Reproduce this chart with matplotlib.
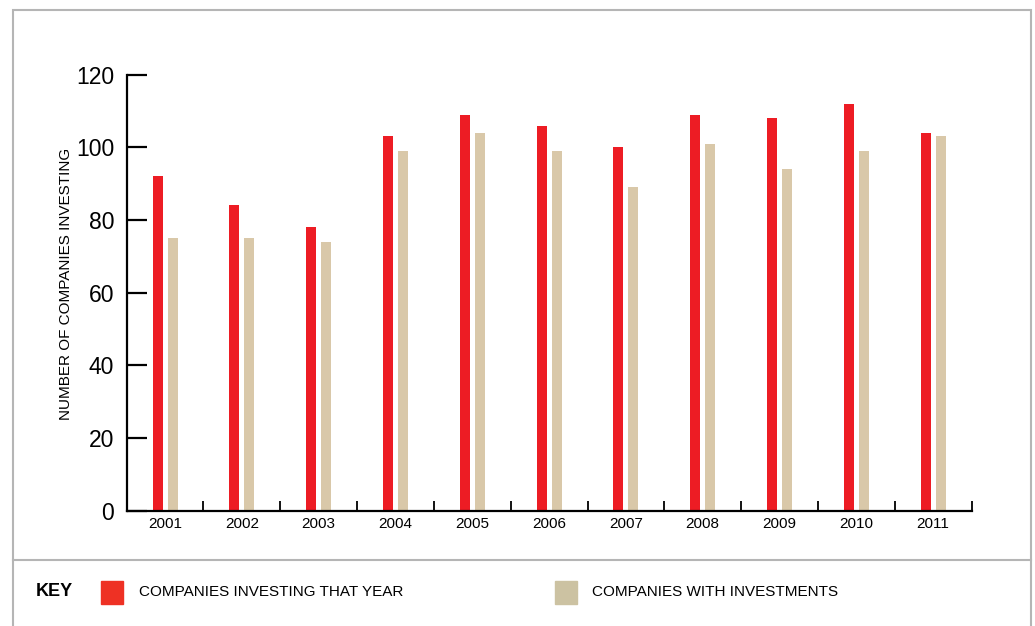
import numpy as np
import matplotlib.pyplot as plt
from matplotlib.patches import Rectangle
from matplotlib.lines import Line2D

# --- Data ---
years = ['2001', '2002', '2003', '2004', '2005', '2006',
         '2007', '2008', '2009', '2010', '2011']
investing_that_year = [92, 84, 78, 103, 109, 106, 100, 109, 108, 112, 104]
with_investments = [75, 75, 74, 99, 104, 99, 89, 101, 94, 99, 103]

red = '#ED1C24'
tan = '#D9C8A9'

plt.rcParams['font.family'] = ['Liberation Sans', 'DejaVu Sans']

fig = plt.figure(figsize=(10.35, 6.26), dpi=100)
ax = fig.add_axes([0.1224, 0.1845, 0.8163, 0.6962])

x = np.arange(len(years)) + 0.5
width = 0.13
offset = 0.0975
ax.bar(x - offset, investing_that_year, width, color=red)
ax.bar(x + offset, with_investments, width, color=tan)

ax.set_xlim(0, len(years))
ax.set_ylim(0, 120)

# axes styling
for side in ['top', 'right']:
    ax.spines[side].set_visible(False)
for side in ['left', 'bottom']:
    ax.spines[side].set_linewidth(1.6)
    ax.spines[side].set_color('black')

ax.set_yticks(range(0, 121, 20))
ax.tick_params(axis='y', direction='in', length=14.5, width=1.6,
               labelsize=16.5, pad=9)
ax.set_xticks(x)
ax.set_xticklabels(years)
ax.tick_params(axis='x', which='major', length=0, labelsize=11, pad=5)
ax.set_xticks(np.arange(1, len(years) + 1), minor=True)
ax.tick_params(axis='x', which='minor', direction='in', length=7, width=1.3)

ax.set_ylabel('NUMBER OF COMPANIES INVESTING', fontsize=11)
ax.yaxis.set_label_coords(-0.064, 0.52)

# outer frame and divider above the key
border = '#B5B5B5'
fig.add_artist(Rectangle((13 / 1035, -0.01), (1031 - 13) / 1035, 1 - 10 / 626 + 0.01,
                         transform=fig.transFigure, fill=False,
                         edgecolor=border, linewidth=1.5))
fig.add_artist(Line2D([13 / 1035, 1031 / 1035], [1 - 560 / 626] * 2,
                      transform=fig.transFigure, color=border, linewidth=1.5))

# key
key_y = 1 - 592 / 626
fig.text(36 / 1035, key_y, 'KEY', fontsize=13, fontweight='bold', va='center')
sq_w, sq_h = 22 / 1035, 23 / 626
fig.add_artist(Rectangle((101 / 1035, key_y - sq_h / 2), sq_w, sq_h,
                         transform=fig.transFigure, color='#EE3124'))
fig.text(139 / 1035, key_y, 'COMPANIES INVESTING THAT YEAR', fontsize=11, va='center')
fig.add_artist(Rectangle((555 / 1035, key_y - sq_h / 2), sq_w, sq_h,
                         transform=fig.transFigure, color='#CCC2A2'))
fig.text(592 / 1035, key_y, 'COMPANIES WITH INVESTMENTS', fontsize=11, va='center')

fig.savefig('out.png', dpi=100)
